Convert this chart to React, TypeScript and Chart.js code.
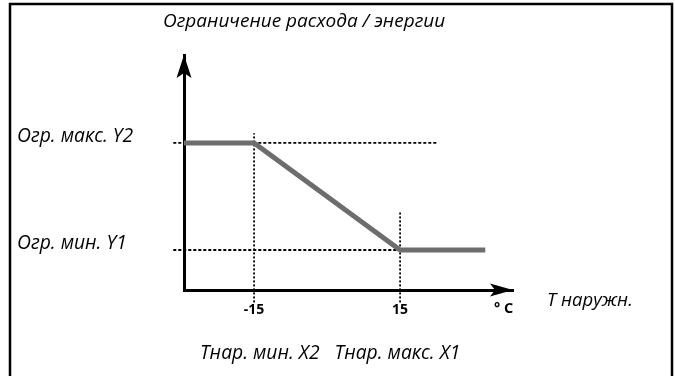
import React, { useEffect, useRef } from "react";
import { Chart, registerables } from "chart.js";

Chart.register(...registerables);

// ---- data ----
const LIMIT_MIN_Y1 = 1;
const LIMIT_MAX_Y2 = 2;
const X_TICKS = [-15, 15];
const Y_TICKS = [LIMIT_MIN_Y1, LIMIT_MAX_Y2];
const Y_TICK_LABELS = ["Огр. мин. Y1", "Огр. макс. Y2"];
const CURVE_X = [-29.4, -15, 15, 32.5];
const CURVE_Y = [LIMIT_MAX_Y2, LIMIT_MAX_Y2, LIMIT_MIN_Y1, LIMIT_MIN_Y1];
const GUIDE_Y2_X = [-31.6, 22.6];
const GUIDE_Y1_X = [-31.6, 15];
const GUIDE_X2_Y = [0.51, 2.09];
const GUIDE_X1_Y = [0.51, 1.35];
const X_RANGE = [-29.4, 38.2];
const Y_RANGE = [0.626, 2.822];

const TITLE = "Ограничение расхода / энергии";
const X_TITLE = "T наружн.";
const X_UNIT = "° C";
const BOTTOM_LABEL = "Тнар. мин. X2   Тнар. макс. X1";

const FONT = "'Open Sans', sans-serif";

const decorPlugin = {
  id: "decor",
  afterDraw(chart: any) {
    const { ctx, chartArea } = chart;
    ctx.save();
    // frame (top, left, right)
    ctx.strokeStyle = "#000";
    ctx.lineWidth = 2.5;
    ctx.beginPath();
    ctx.moveTo(10, 380);
    ctx.lineTo(10, 4);
    ctx.lineTo(672, 4);
    ctx.lineTo(672, 380);
    ctx.stroke();

    // arrow heads
    ctx.fillStyle = "#000";
    const ax = chartArea.left;
    const top = chartArea.top;
    ctx.beginPath();
    ctx.moveTo(ax, top);
    ctx.lineTo(ax + 7.5, top + 23);
    ctx.lineTo(ax, top + 18);
    ctx.lineTo(ax - 7.5, top + 23);
    ctx.closePath();
    ctx.fill();
    const ay = chartArea.bottom;
    const right = chartArea.right;
    ctx.beginPath();
    ctx.moveTo(right, ay);
    ctx.lineTo(right - 23, ay - 6.5);
    ctx.lineTo(right - 18, ay);
    ctx.lineTo(right - 23, ay + 6.5);
    ctx.closePath();
    ctx.fill();

    // texts
    ctx.fillStyle = "#000";
    ctx.textBaseline = "alphabetic";
    ctx.textAlign = "left";
    ctx.font = `italic 19px ${FONT}`;
    ctx.fillText(TITLE, 163, 27);
    ctx.font = `italic 18.5px ${FONT}`;
    ctx.fillText(X_TITLE, 547, 306);
    ctx.font = `italic 19.3px ${FONT}`;
    ctx.fillText(BOTTOM_LABEL, 200, 359);
    ctx.font = `bold 14.5px ${FONT}`;
    ctx.fillText(X_UNIT, 494, 313);
    ctx.restore();
  },
};

export default function App() {
  const ref = useRef<HTMLCanvasElement | null>(null);
  useEffect(() => {
    if (!ref.current) return;
    const guide = (xs: number[], ys: number[], dash: number[]) => ({
      data: xs.map((x, i) => ({ x, y: ys[i] })),
      borderColor: "#000",
      borderWidth: 1.8,
      borderDash: dash,
      pointRadius: 0,
      clip: false as any,
      order: 2,
    });
    const chart = new Chart(ref.current, {
      type: "line",
      data: {
        datasets: [
          {
            data: CURVE_X.map((x, i) => ({ x, y: CURVE_Y[i] })),
            borderColor: "#6d6d6d",
            borderWidth: 5,
            pointRadius: 0,
            borderJoinStyle: "miter",
            borderCapStyle: "butt",
            clip: false as any,
            order: 1,
          },
          guide(GUIDE_Y2_X, [LIMIT_MAX_Y2, LIMIT_MAX_Y2], [3, 2]),
          guide(GUIDE_Y1_X, [LIMIT_MIN_Y1, LIMIT_MIN_Y1], [3, 2]),
          guide([-15, -15], GUIDE_X2_Y, [2, 2]),
          guide([15, 15], GUIDE_X1_Y, [2, 2]),
        ],
      },
      options: {
        responsive: false,
        animation: false,
        devicePixelRatio: 1,
        layout: { padding: { left: 17, top: 55, right: 162, bottom: 0 } },
        plugins: { legend: { display: false }, tooltip: { enabled: false } },
        scales: {
          x: {
            type: "linear",
            min: X_RANGE[0],
            max: X_RANGE[1],
            grid: { display: false, drawTicks: false },
            border: { display: true, color: "#000", width: 3 },
            afterBuildTicks: (s: any) => {
              s.ticks = X_TICKS.map((v) => ({ value: v }));
            },
            afterFit: (s: any) => {
              s.height = 86;
            },
            ticks: {
              color: "#000",
              font: { family: FONT, size: 14, weight: "bold" },
              padding: 12,
              autoSkip: false,
              maxRotation: 0,
              callback: (v: any) => String(v),
            },
          },
          y: {
            type: "linear",
            min: Y_RANGE[0],
            max: Y_RANGE[1],
            grid: { display: false, drawTicks: false },
            border: { display: true, color: "#000", width: 3 },
            afterBuildTicks: (s: any) => {
              s.ticks = Y_TICKS.map((v) => ({ value: v }));
            },
            afterFit: (s: any) => {
              s.width = 167;
            },
            ticks: {
              color: "#000",
              font: { family: FONT, size: 19.3, style: "italic" },
              crossAlign: "far",
              labelOffset: -6,
              autoSkip: false,
              callback: (v: any) => {
                const i = Y_TICKS.indexOf(Number(v));
                return i >= 0 ? Y_TICK_LABELS[i] : "";
              },
            },
          },
        },
      },
      plugins: [decorPlugin],
    });
    return () => chart.destroy();
  }, []);
  return (
    <div style={{ position: "fixed", left: 0, top: 0, width: 675, height: 376, background: "#fff" }}>
      <canvas ref={ref} width={675} height={376} style={{ width: 675, height: 376 }} />
    </div>
  );
}
